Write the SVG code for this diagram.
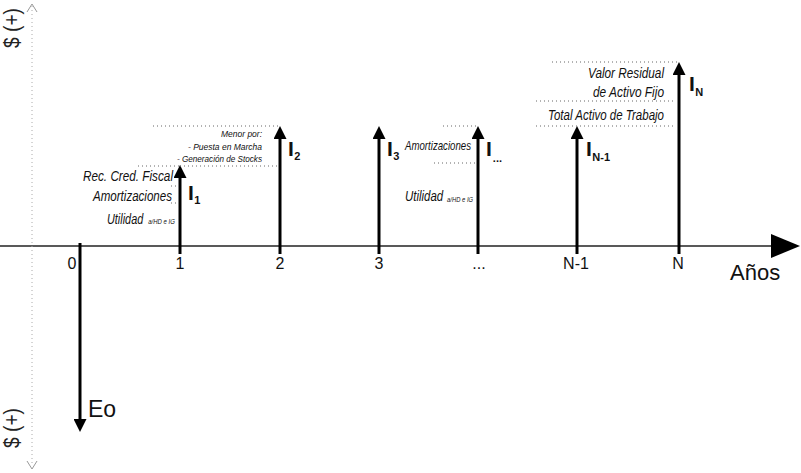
<svg xmlns="http://www.w3.org/2000/svg" width="801" height="473" viewBox="0 0 801 473">
<style>
text{font-family:"Liberation Sans",Arial,sans-serif;fill:#111}
.it{font-style:italic;text-anchor:end}
.tick{font-size:16px;text-anchor:middle}
.I{font-weight:bold;font-size:21px}
.sub{font-weight:bold;font-size:11px}
.dot{stroke:#666;stroke-width:1;stroke-dasharray:1 3;fill:none}
.arr{stroke:#000;stroke-width:3;fill:none;marker-end:url(#ah)}
.vax{stroke:#aaa;stroke-width:1;stroke-dasharray:1 3;fill:none}
.chev{stroke:#999;stroke-width:1;fill:none}
.side{font-size:22px;fill:#222;text-anchor:middle}
</style>
<defs>
<marker id="ah" markerUnits="userSpaceOnUse" markerWidth="13" markerHeight="13" viewBox="0 0 13 13" refX="0" refY="6.5" orient="auto">
<path d="M0,0 L13,6.5 L0,13 z" fill="#000"/>
</marker>
</defs>
<rect width="801" height="473" fill="#fff"/>
<g id="axes">
<line x1="0" y1="246" x2="772" y2="246" stroke="#222" stroke-width="1.3"/>
<polygon points="771,234 800,246 771,258" fill="#000"/>
<line class="vax" x1="32" y1="6" x2="32" y2="466"/>
<polyline class="chev" points="27,12 32,4 37,12"/>
<polyline class="chev" points="27,461 32,469 37,461"/>
<text class="side" transform="translate(19,28) rotate(-90)" textLength="40" lengthAdjust="spacingAndGlyphs">$ (+)</text>
<text class="side" transform="translate(19,428) rotate(-90)" textLength="40" lengthAdjust="spacingAndGlyphs">$ (+)</text>
<text x="730" y="280" font-size="22">Años</text>
</g>
<g id="connectors">
<line class="arr" x1="80" y1="243" x2="80" y2="419"/>
<line class="arr" x1="180" y1="254" x2="180" y2="178"/>
<line class="arr" x1="280" y1="254" x2="280" y2="139"/>
<line class="arr" x1="379" y1="254" x2="379" y2="139"/>
<line class="arr" x1="478" y1="254" x2="478" y2="139"/>
<line class="arr" x1="577" y1="254" x2="577" y2="139"/>
<line class="arr" x1="679" y1="254" x2="679" y2="75"/>
</g>
<g id="period0">
<text class="tick" x="72" y="269">0</text>
<text x="88" y="417" font-size="23">Eo</text>
</g>
<g id="period1">
<text class="tick" x="180" y="269">1</text>
<line class="dot" x1="138" y1="166" x2="180" y2="166"/>
<line class="dot" x1="171" y1="186" x2="179" y2="186"/>
<line class="dot" x1="171" y1="203" x2="179" y2="203"/>
<text class="it" x="173" y="181" font-size="14.5" textLength="90" lengthAdjust="spacingAndGlyphs">Rec. Cred. Fiscal</text>
<text class="it" x="172" y="201" font-size="14.5" textLength="79" lengthAdjust="spacingAndGlyphs">Amortizaciones</text>
<text font-style="italic" font-size="14.5" transform="translate(107,224) scale(0.75,1)">Utilidad<tspan dx="6.7" font-size="8">a/HD e IG</tspan></text>
<text class="I" x="188" y="200">I<tspan class="sub" dx="0.5" dy="4">1</tspan></text>
</g>
<g id="period2">
<text class="tick" x="280" y="269">2</text>
<line class="dot" x1="153" y1="126" x2="279" y2="126"/>
<line class="dot" x1="180" y1="166" x2="278" y2="166"/>
<text class="it" x="262" y="137" font-size="9.5" textLength="41" lengthAdjust="spacingAndGlyphs">Menor por:</text>
<text class="it" x="262" y="150" font-size="9.5" textLength="74" lengthAdjust="spacingAndGlyphs">- Puesta en Marcha</text>
<text class="it" x="262" y="162" font-size="9.5" textLength="85" lengthAdjust="spacingAndGlyphs">- Generación de Stocks</text>
<text class="I" x="288" y="156">I<tspan class="sub" dx="0.5" dy="4">2</tspan></text>
</g>
<g id="period3">
<text class="tick" x="379" y="269">3</text>
<text class="I" x="387" y="156">I<tspan class="sub" dx="0.5" dy="4">3</tspan></text>
</g>
<g id="periodEtc">
<text class="tick" x="479" y="269">...</text>
<line class="dot" x1="443" y1="126" x2="476" y2="126"/>
<line class="dot" x1="434" y1="163" x2="476" y2="163"/>
<text class="it" x="471" y="150" font-size="13" textLength="66" lengthAdjust="spacingAndGlyphs">Amortizaciones</text>
<text font-style="italic" font-size="14.5" transform="translate(405,201) scale(0.79,1)">Utilidad<tspan dx="5" font-size="7.4" dy="1">a/HD e IG</tspan></text>
<text class="I" x="486" y="156">I<tspan class="sub" dx="1" dy="6">...</tspan></text>
</g>
<g id="periodN1">
<text class="tick" x="576" y="269">N-1</text>
<line class="dot" x1="536" y1="101" x2="673" y2="101"/>
<line class="dot" x1="536" y1="126" x2="673" y2="126"/>
<text class="it" x="664" y="120" font-size="14" textLength="116" lengthAdjust="spacingAndGlyphs">Total Activo de Trabajo</text>
<text class="I" x="586" y="156">I<tspan class="sub" dx="0.5" dy="5">N-1</tspan></text>
</g>
<g id="periodN">
<text class="tick" x="678" y="269">N</text>
<line class="dot" x1="552" y1="62" x2="678" y2="62"/>
<text class="it" x="664" y="78" font-size="14" textLength="76" lengthAdjust="spacingAndGlyphs">Valor Residual</text>
<text class="it" x="664" y="97" font-size="14" textLength="71" lengthAdjust="spacingAndGlyphs">de Activo Fijo</text>
<text class="I" x="689" y="91">I<tspan class="sub" dx="0.5" dy="5">N</tspan></text>
</g>
</svg>
